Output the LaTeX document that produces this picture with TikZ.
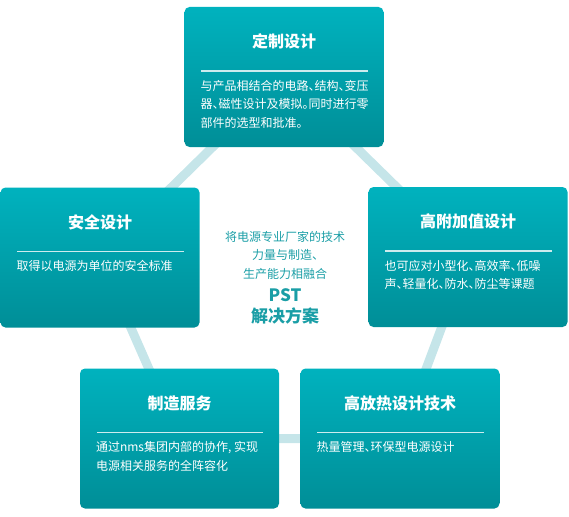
\documentclass[tikz,border=0pt]{standalone}
\usepackage{fontspec}
\setmainfont{Noto Sans CJK SC}
\definecolor{boxtop}{RGB}{0, 178, 190}
\definecolor{boxbot}{RGB}{0, 142, 151}
\definecolor{linkteal}{RGB}{197, 229, 233}
\definecolor{midteal}{RGB}{26, 158, 166}
\usetikzlibrary{calc, backgrounds, positioning}
\newcommand{\halfpunct}[1]{\makebox[0.5em][l]{#1}}

\begin{document}
\begin{tikzpicture}[x=1pt, y=-1pt,
    panel/.style={rounded corners=5pt, top color=boxtop, bottom color=boxbot, minimum width=199pt, minimum height=140pt, inner sep=0pt},
    paneltitle/.style={white, font=\fontsize{16}{19}\selectfont\bfseries, inner sep=0pt},
    panelbody/.style={white, font=\fontsize{12}{18.5}\selectfont, align=left, anchor=north west, inner sep=0pt},
    rule/.style={white, opacity=0.8, line width=1.5pt}]
  \useasboundingbox (0,0) rectangle (569,516);
  \node[panel] (custom) at (284,77) {};
  \node[panel] (safety) at (100,257.5) {};
  \node[panel] (added) at (468,257) {};
  \node[panel] (making) at (179.5,438.5) {};
  \node[panel] (thermal) at (400,438.5) {};
  \begin{scope}[on background layer]
    \draw[linkteal, line width=9pt] (custom.center) -- (added.center) -- (thermal.center) -- (making.center) -- (safety.center) -- cycle;
  \end{scope}
  % titles, rules and texts
  \foreach \p/\t in {custom/定制设计, safety/安全设计, added/高附加值设计, making/制造服务, thermal/高放热设计技术} {
    \node[paneltitle] (\p-title) at ($(\p.north)+(0,35)$) {\t};
    \draw[rule] ($(\p.north west)+(17,64)$) -- ($(\p.north east)+(-16,64)$);
  }
  \node[panelbody] (custom-text) at ($(custom.north west)+(16,73)$) {与产品相结合的电路\halfpunct{、}结构\halfpunct{、}变压\\器\halfpunct{、}磁性设计及模拟\halfpunct{。}同时进行零\\部件的选型和批准\halfpunct{。}};
  \node[panelbody] (safety-text) at ($(safety.north west)+(16,73)$) {取得以电源为单位的安全标准};
  \node[panelbody] (added-text) at ($(added.north west)+(16,73)$) {也可应对小型化\halfpunct{、}高效率\halfpunct{、}低噪\\声\halfpunct{、}轻量化\halfpunct{、}防水\halfpunct{、}防尘等课题};
  \node[panelbody] (making-text) at ($(making.north west)+(16,73)$) {通过nms集团内部的协作, 实现\\电源相关服务的全阵容化};
  \node[panelbody] (thermal-text) at ($(thermal.north west)+(16,73)$) {热量管理\halfpunct{、}环保型电源设计};
  % centre
  \node[midteal, font=\fontsize{12}{18.5}\selectfont, align=center] (core) at (285,255) {将电源专业厂家的技术\\力量与制造\halfpunct{、}\\生产能力相融合};
  \node[midteal, font=\fontsize{17}{21}\selectfont\bfseries, align=center, below=2pt of core] (pst) {PST\\解决方案};
\end{tikzpicture}
\end{document}
